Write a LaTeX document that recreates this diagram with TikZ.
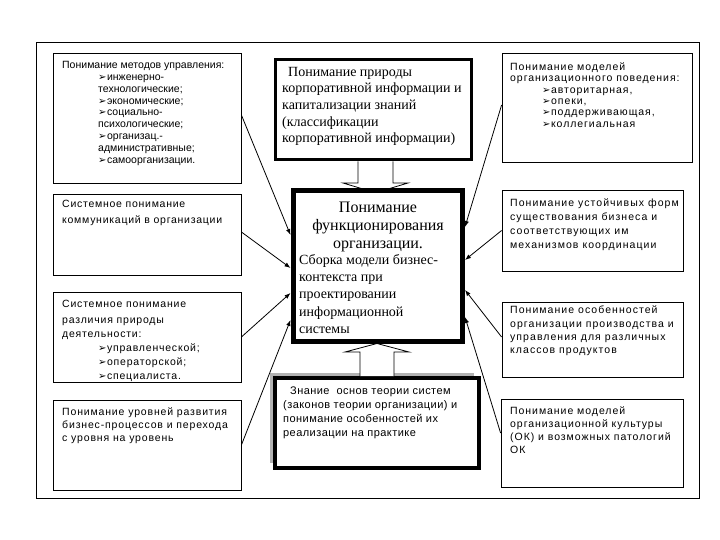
\documentclass[tikz,border=0pt]{standalone}
\usepackage{fontspec}
\setmainfont{Liberation Serif}
\setsansfont{Liberation Sans}
\newfontfamily\arrfont{DejaVu Sans}
\usetikzlibrary{arrows.meta,calc,shadows}
\newcommand\boxfont[3]{\sffamily\fontsize{#1}{#2}\selectfont\addfontfeature{LetterSpace=#3}}
\newcommand\itm{{\arrfont\fontsize{10}{10}\selectfont\char"27A2}\kern0.5pt}
\newcommand\fst{\rule{0pt}{1em}}

\begin{document}
\begin{tikzpicture}[x=1pt, y=-1pt,
  sidebox/.style={draw, line width=0.8pt, fill=white, inner sep=0pt},
  txt/.style={anchor=north west, inner sep=0pt, align=left},
  link/.style={-{Latex[length=6pt,width=4.5pt]}, line width=0.8pt},
  blockarrow/.style={draw, line width=0.8pt, fill=white}]
  \useasboundingbox (0,0) rectangle (720,540);

  % Outer frame
  \node[draw, line width=1pt, inner sep=0pt, minimum width=663pt, minimum height=455pt] (frame) at (367.5,270.5) {};

  % Left column
  \node[sidebox, minimum width=188pt, minimum height=130pt] (l1) at (147,118) {};
  \node[txt, font=\boxfont{10.5}{11.8}{0}] (l1txt) at (62,58) {\fst Понимание методов управления:\\
    \hspace*{36pt}\itm инженерно-\\
    \hspace*{36pt}технологические;\\
    \hspace*{36pt}\itm экономические;\\
    \hspace*{36pt}\itm социально-\\
    \hspace*{36pt}психологические;\\
    \hspace*{36pt}\itm организац.-\\
    \hspace*{36pt}административные;\\
    \hspace*{36pt}\itm самоорганизации.};

  \node[sidebox, minimum width=188pt, minimum height=81pt] (l2) at (147,234.5) {};
  \node[txt, font=\boxfont{10.5}{16.7}{7}] (l2txt) at (62,196.5) {\fst Системное понимание\\коммуникаций в организации};

  \node[sidebox, minimum width=188pt, minimum height=90pt] (l3) at (147,337) {};
  \node[txt, font=\boxfont{10.5}{14}{7.5}] (l3txt) at (62,296.5) {\fst Системное понимание\\[2pt]
    различия природы\\
    деятельности:\\
    \hspace*{36pt}\itm управленческой;\\
    \hspace*{36pt}\itm операторской;\\
    \hspace*{36pt}\itm специалиста.};

  \node[sidebox, minimum width=188pt, minimum height=90pt] (l4) at (147,445) {};
  \node[txt, font=\boxfont{10.5}{13}{8}] (l4txt) at (62,404.5) {\fst Понимание уровней развития\\бизнес-процессов и перехода\\с уровня на уровень};

  % Right column
  \node[sidebox, minimum width=190pt, minimum height=109pt] (r1) at (597,107.5) {};
  \node[txt, font=\boxfont{10.5}{11.3}{9}] (r1txt) at (510,60) {\fst Понимание моделей\\
    организационного поведения:\\
    \hspace*{32pt}\itm авторитарная,\\
    \hspace*{32pt}\itm опеки,\\
    \hspace*{32pt}\itm поддерживающая,\\
    \hspace*{32pt}\itm коллегиальная};

  \node[sidebox, minimum width=181pt, minimum height=81pt] (r2) at (592.5,230.5) {};
  \node[txt, font=\boxfont{10.5}{14}{10}] (r2txt) at (510,196) {\fst Понимание устойчивых форм\\существования бизнеса и\\соответствующих им\\механизмов координации};

  \node[sidebox, minimum width=181pt, minimum height=75pt] (r3) at (592.5,339.5) {};
  \node[txt, font=\boxfont{10.5}{13.3}{10}] (r3txt) at (510,303) {\fst Понимание особенностей\\организации производства и\\управления для различных\\классов продуктов};

  \node[sidebox, minimum width=182pt, minimum height=88pt] (r4) at (592,443) {};
  \node[txt, font=\boxfont{10.5}{13}{9}] (r4txt) at (510,404) {\fst Понимание моделей\\организационной культуры\\(ОК) и возможных патологий\\ОК};

  % Centre column
  \node[draw, line width=3pt, fill=white, minimum width=196pt, minimum height=100pt] (t) at (373.5,110) {};
  \node[txt, font=\fontsize{14}{16.7}\selectfont] (ttxt) at (282,62) {\fst\hspace*{6pt}Понимание природы\\корпоративной информации и\\капитализации знаний\\(классификации\\корпоративной информации)};

  \node[draw, line width=4pt, fill=white, minimum width=204pt, minimum height=89.5pt,
        drop shadow={shadow xshift=-5pt, shadow yshift=5pt, fill=gray!60, opacity=1}] (b) at (377,422.75) {};
  \node[txt, font=\boxfont{11}{14}{4}] (btxt) at (283,383) {\fst\hspace*{7pt}Знание\ \ основ теории систем\\(законов теории организации) и\\понимание особенностей их\\реализации на практике};

  % Block arrows
  \draw[blockarrow] ([xshift=-15.5pt]t.south) -- ++(0,21.5) -- ++(-15,0) -- ++(32.5,9.75) -- ++(32.5,-9.75) -- ++(-15,0) -- ++(0,-21.5);
  \draw[blockarrow] ([xshift=-17pt]b.north) -- ++(0,-24) -- ++(-15,0) -- ++(32,-8.5) -- ++(32,8.5) -- ++(-15,0) -- ++(0,24);

  \node[draw, line width=5pt, fill=white, minimum width=169.5pt, minimum height=151pt] (c) at (377.75,266) {};
  \node[anchor=north, inner sep=0pt, align=center, font=\fontsize{16}{18}\selectfont] (ctop) at (378,196) {\fst Понимание\\функционирования\\организации.};
  \node[txt, font=\fontsize{14}{17.3}\selectfont] (cbot) at (299,250) {\fst Сборка модели бизнес-\\контекста при\\проектировании\\информационной\\системы};

  % Links to the centre
  \draw[link] ([yshift=3pt]l1.east) -- ([yshift=31pt]c.west);
  \draw[link] ([yshift=2.5pt]l2.east) -- ([yshift=-2pt]c.west);
  \draw[link] (l3.east) -- ([yshift=-27pt]c.west);
  \draw[link] (l4.east) -- ([yshift=-54pt]c.west);
  \draw[link] ([yshift=2.5pt]r1.west) -- ([yshift=39pt]c.east);
  \draw[link] (r2.west) -- ([yshift=6pt]c.east);
  \draw[link] ([yshift=2.5pt]r3.west) -- ([yshift=-24pt]c.east);
  \draw[link] ([yshift=10pt]r4.west) -- ([yshift=-51pt]c.east);
\end{tikzpicture}
\end{document}
